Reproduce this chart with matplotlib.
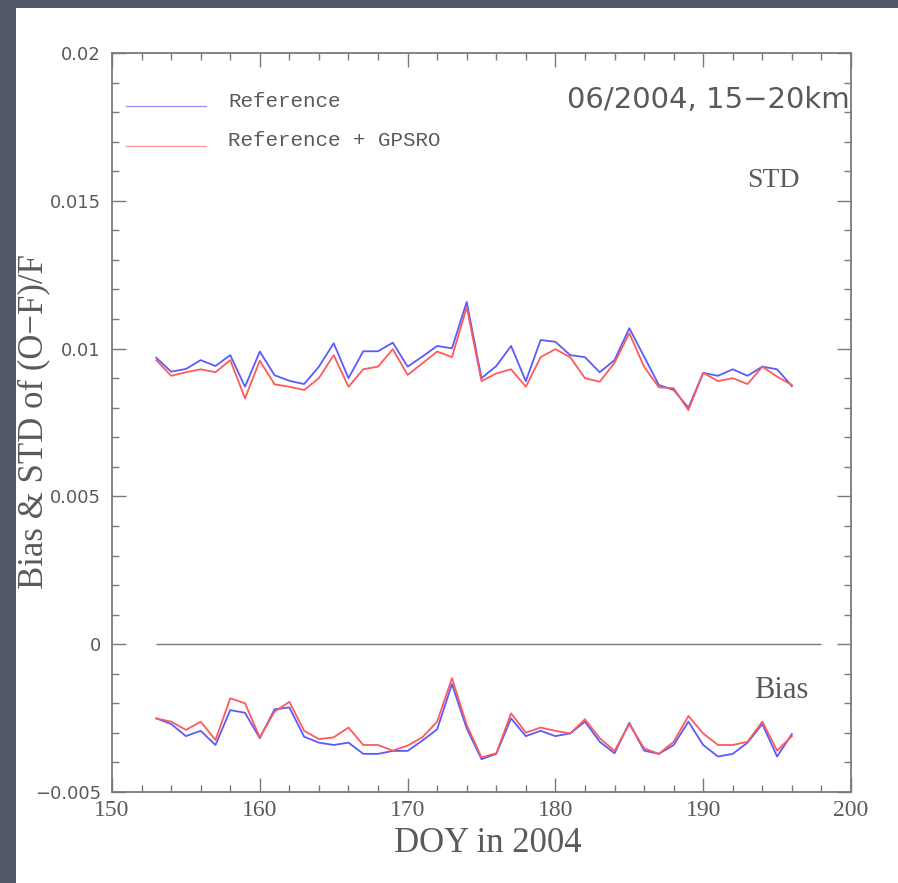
import matplotlib
matplotlib.use("Agg")
import matplotlib.pyplot as plt
from matplotlib.patches import Rectangle
from matplotlib.ticker import MultipleLocator

# Day of year (June 2004)
days = list(range(153, 197))

# Standard deviation of (O-F)/F, 15-20 km
std_ref = [0.00969, 0.00922, 0.00931, 0.00961, 0.00941, 0.00978, 0.00871, 0.00990,
           0.00910, 0.00891, 0.00880, 0.00939, 0.01018, 0.00900, 0.00991, 0.00991,
           0.01020, 0.00939, 0.00973, 0.01009, 0.01001, 0.01158, 0.00900, 0.00941,
           0.01009, 0.00890, 0.01029, 0.01023, 0.00978, 0.00971, 0.00920, 0.00961,
           0.01069, 0.00973, 0.00877, 0.00860, 0.00800, 0.00918, 0.00908, 0.00930,
           0.00908, 0.00939, 0.00930, 0.00873]
std_gps = [0.00961, 0.00908, 0.00920, 0.00930, 0.00920, 0.00961, 0.00832, 0.00959,
           0.00879, 0.00871, 0.00860, 0.00900, 0.00978, 0.00871, 0.00930, 0.00939,
           0.00998, 0.00911, 0.00950, 0.00990, 0.00971, 0.01140, 0.00890, 0.00916,
           0.00930, 0.00871, 0.00971, 0.00998, 0.00971, 0.00900, 0.00888, 0.00952,
           0.01052, 0.00939, 0.00869, 0.00866, 0.00792, 0.00918, 0.00890, 0.00900,
           0.00880, 0.00939, 0.00905, 0.00877]

# Bias of (O-F)/F, 15-20 km
bias_ref = [-0.00251, -0.00270, -0.00311, -0.00293, -0.00341, -0.00223, -0.00232, -0.00318,
            -0.00220, -0.00214, -0.00313, -0.00333, -0.00341, -0.00333, -0.00371, -0.00371,
            -0.00361, -0.00361, -0.00326, -0.00288, -0.00135, -0.00285, -0.00389, -0.00371,
            -0.00251, -0.00311, -0.00293, -0.00311, -0.00302, -0.00262, -0.00330, -0.00369,
            -0.00266, -0.00360, -0.00371, -0.00341, -0.00262, -0.00341, -0.00380, -0.00371,
            -0.00333, -0.00270, -0.00380, -0.00304]
bias_gps = [-0.00251, -0.00262, -0.00290, -0.00262, -0.00324, -0.00183, -0.00200, -0.00315,
            -0.00228, -0.00195, -0.00293, -0.00321, -0.00315, -0.00282, -0.00341, -0.00341,
            -0.00360, -0.00343, -0.00315, -0.00262, -0.00115, -0.00273, -0.00383, -0.00369,
            -0.00234, -0.00299, -0.00282, -0.00293, -0.00302, -0.00254, -0.00318, -0.00361,
            -0.00270, -0.00352, -0.00371, -0.00330, -0.00243, -0.00302, -0.00341, -0.00341,
            -0.00330, -0.00262, -0.00360, -0.00311]

zero_span = (153, 198)

series_labels = ["Reference", "Reference + GPSRO"]
title_text = "06/2004, 15\u221220km"
xlabel_text = "DOY in 2004"
ylabel_text = "Bias & STD of (O\u2212F)/F"

BLUE = "#5a5aff"
RED = "#ff5a5a"
GREY = "#7a7a7a"
TEXT = "#5a5a5a"
SERIF = ["Liberation Serif", "DejaVu Serif"]
SANS = ["DejaVu Sans"]
MONO = ["Liberation Mono", "DejaVu Sans Mono"]

W, H = 898, 883
fig = plt.figure(figsize=(W / 100, H / 100), dpi=100, facecolor="#535868")
# white slide panel behind the axes
panel = Rectangle((16 / W, 0), 1, 1 - 8 / H, transform=fig.transFigure,
                  facecolor="white", edgecolor="none", zorder=-10)
fig.add_artist(panel)

ax = fig.add_axes([112 / W, 1 - 792 / H, (851 - 112) / W, (792 - 53) / H], zorder=1)
ax.set_facecolor("white")

ax.plot(days, std_ref, color=BLUE, lw=1.3)
ax.plot(days, std_gps, color=RED, lw=1.3)
ax.plot(days, bias_ref, color=BLUE, lw=1.3)
ax.plot(days, bias_gps, color=RED, lw=1.3)
ax.hlines(0, zero_span[0], zero_span[1], color=GREY, lw=1.0)

ax.set_xlim(150, 200)
ax.set_ylim(-0.005, 0.02)
ax.xaxis.set_major_locator(MultipleLocator(10))
ax.xaxis.set_minor_locator(MultipleLocator(2))
ax.yaxis.set_major_locator(MultipleLocator(0.005))
ax.yaxis.set_minor_locator(MultipleLocator(0.001))
ax.set_yticks([-0.005, 0, 0.005, 0.01, 0.015, 0.02])
ax.set_yticklabels(["\u22120.005", "0", "0.005", "0.01", "0.015", "0.02"])

for s in ax.spines.values():
    s.set_color(GREY)
    s.set_linewidth(1.3)
ax.tick_params(which="both", direction="in", top=True, right=True, color=GREY, width=1.0)
ax.tick_params(which="major", length=10)
ax.tick_params(which="minor", length=5)
ax.tick_params(axis="x", labelsize=17, labelcolor=TEXT, pad=6)
ax.tick_params(axis="y", labelsize=13, labelcolor=TEXT, pad=8)
for lab in ax.get_xticklabels():
    lab.set_family(SERIF)
for lab in ax.get_yticklabels():
    lab.set_family(SANS)

ax.set_xlabel(xlabel_text, fontsize=25, family=SERIF, color=TEXT)
ax.xaxis.set_label_coords((488 - 112) / 739, (792 - 827) / 739)
ax.set_ylabel(ylabel_text, fontsize=25, family=SERIF, color=TEXT)
ax.yaxis.set_label_coords((50 - 112) / 739, (792 - 422) / 739)

ax.text(0.998, 0.936, title_text, transform=ax.transAxes, ha="right", va="center",
        fontsize=21, family=SANS, color=TEXT)
ax.text(0.931, 0.828, "STD", transform=ax.transAxes, ha="right", va="center",
        fontsize=20, family=SERIF, color=TEXT)
ax.text(0.942, 0.138, "Bias", transform=ax.transAxes, ha="right", va="center",
        fontsize=22, family=SERIF, color=TEXT)

# legend
for i, (lab, col) in enumerate(zip(series_labels, ["#9a9aff", "#ff9a9a"])):
    yl = 0.928 - i * 0.054
    ax.plot([0.019, 0.127], [yl, yl], transform=ax.transAxes, color=col, lw=1.0)
    ax.text(0.157, yl + 0.007, lab, transform=ax.transAxes, ha="left", va="center",
            fontsize=15, family=MONO, color=TEXT)

fig.savefig("out.png", dpi=100, facecolor=fig.get_facecolor())
